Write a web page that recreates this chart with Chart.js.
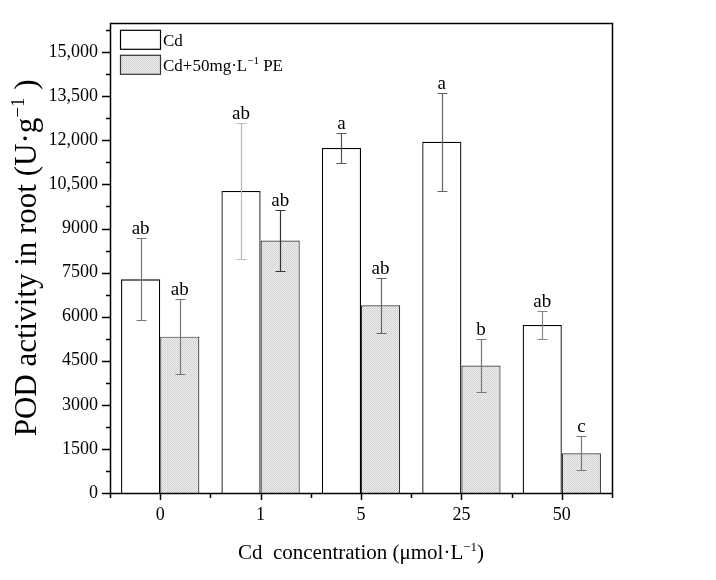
<!DOCTYPE html>
<html>
<head>
<meta charset="utf-8">
<script src="https://cdn.jsdelivr.net/npm/chart.js@4.4.0/dist/chart.umd.min.js"></script>
<style>
  html, body { margin: 0; padding: 0; background: #fff; }
</style>
</head>
<body>
<canvas id="chart" width="716" height="580"></canvas>
<script>
// data
var concentrations = ['0', '1', '5', '25', '50'];
var cdValues = [7270, 10280, 11740, 11950, 5720];
var cdErrors = [1400, 2320, 510, 1660, 490];
var cdLetters = ['ab', 'ab', 'a', 'a', 'ab'];
var peValues = [5320, 8590, 6390, 4340, 1350];
var peErrors = [1270, 1030, 935, 905, 580];
var peLetters = ['ab', 'ab', 'ab', 'b', 'c'];
var yTickValues = [0, 1500, 3000, 4500, 6000, 7500, 9000, 10500, 12000, 13500, 15000];

// error bar colours (they vary in the original)
var cdErrColors = ['#777', '#bbb', '#555', '#666', '#888'];
var peErrColors = ['#777', '#333', '#666', '#777', '#777'];

var serif = '"Liberation Serif", "Times New Roman", serif';

function makeStipple() {
    var c = document.createElement('canvas');
    c.width = 2; c.height = 2;
    var g = c.getContext('2d');
    g.fillStyle = '#f0f0f0';
    g.fillRect(0, 0, 2, 2);
    g.fillStyle = '#cfcfcf';
    g.fillRect(0, 0, 1, 1);
    g.fillRect(1, 1, 1, 1);
    return g.createPattern(c, 'repeat');
}
var stipple = makeStipple();

// draw text made of plain and superscript pieces, centred on x
function richText(ctx, parts, x, y, size) {
    var widths = parts.map(function (p) {
        ctx.font = (p.sup ? Math.round(size * 0.62) : size) + 'px ' + serif;
        return ctx.measureText(p.t).width;
    });
    var total = widths.reduce(function (a, b) { return a + b; }, 0);
    var cx = x - total / 2;
    parts.forEach(function (p, i) {
        ctx.font = (p.sup ? Math.round(size * 0.62) : size) + 'px ' + serif;
        ctx.fillText(p.t, cx, p.sup ? y - size * 0.4 : y);
        cx += widths[i];
    });
}

var decorations = {
    id: 'decorations',
    afterDatasetsDraw: function (chart) {
        var ctx = chart.ctx, y = chart.scales.y;
        var extra = [
            [cdErrors, cdLetters, cdErrColors],
            [peErrors, peLetters, peErrColors]
        ];
        chart.data.datasets.forEach(function (ds, d) {
            chart.getDatasetMeta(d).data.forEach(function (bar, i) {
                var v = ds.data[i], e = extra[d][0][i];
                var x = Math.round(bar.x) + 0.5;
                var top = Math.round(y.getPixelForValue(v + e)) + 0.5;
                var bot = Math.round(y.getPixelForValue(v - e)) + 0.5;
                ctx.save();
                ctx.strokeStyle = extra[d][2][i];
                ctx.lineWidth = 1.2;
                ctx.beginPath();
                ctx.moveTo(x, top); ctx.lineTo(x, bot);
                ctx.moveTo(x - 5, top); ctx.lineTo(x + 5, top);
                ctx.moveTo(x - 5, bot); ctx.lineTo(x + 5, bot);
                ctx.stroke();
                ctx.fillStyle = '#000';
                ctx.font = '19px ' + serif;
                ctx.textAlign = 'center';
                ctx.textBaseline = 'alphabetic';
                ctx.fillText(extra[d][1][i], bar.x, top - 5);
                ctx.restore();
            });
        });
    },
    afterDraw: function (chart) {
        var ctx = chart.ctx, a = chart.chartArea;
        var xs = chart.scales.x, ys = chart.scales.y;
        ctx.save();
        ctx.strokeStyle = '#000';
        ctx.lineWidth = 1.5;
        // frame
        ctx.strokeRect(Math.round(a.left) + 0.5, Math.round(a.top) + 0.5,
            Math.round(a.right - a.left), Math.round(a.bottom - a.top));

        // y ticks, major every 1500 and minor between
        ctx.beginPath();
        for (var v = 0; v <= ys.max; v += 750) {
            var py = Math.round(ys.getPixelForValue(v)) + 0.5;
            var len = (v % 1500 === 0) ? 8 : 4;
            ctx.moveTo(a.left, py); ctx.lineTo(a.left - len, py);
        }
        // x ticks, major at categories and minor at boundaries
        var n = concentrations.length;
        var step = (a.right - a.left) / n;
        for (var i = 0; i < n; i++) {
            var cx = Math.round(xs.getPixelForValue(i)) + 0.5;
            ctx.moveTo(cx, a.bottom); ctx.lineTo(cx, a.bottom + 7);
            var bx = Math.round(xs.getPixelForValue(i) - step / 2) + 0.5;
            ctx.moveTo(bx, a.bottom); ctx.lineTo(bx, a.bottom + 5);
        }
        var last = Math.round(a.right) + 0.5;
        ctx.moveTo(last, a.bottom); ctx.lineTo(last, a.bottom + 5);
        ctx.stroke();

        // legend
        var lx = a.left + 10, ly = a.top + 7;
        ctx.lineWidth = 1.2;
        ctx.fillStyle = '#fff';
        ctx.fillRect(lx, ly, 40, 19);
        ctx.strokeRect(lx + 0.5, ly + 0.5, 40, 19);
        ctx.fillStyle = stipple;
        ctx.fillRect(lx, ly + 25, 40, 19);
        ctx.strokeStyle = '#333';
        ctx.strokeRect(lx + 0.5, ly + 25.5, 40, 19);
        ctx.fillStyle = '#000';
        ctx.textAlign = 'left';
        ctx.textBaseline = 'alphabetic';
        ctx.font = '17px ' + serif;
        ctx.fillText(chart.data.datasets[0].label, lx + 43, ly + 16);
        var px = lx + 43, pyb = ly + 41;
        ctx.fillText('Cd+50mg·L', px, pyb);
        px += ctx.measureText('Cd+50mg·L').width;
        ctx.font = '11px ' + serif;
        ctx.fillText('\u22121', px, pyb - 7);
        px += ctx.measureText('\u22121').width;
        ctx.font = '17px ' + serif;
        ctx.fillText(' PE', px, pyb);

        // axis titles
        ctx.textAlign = 'left';
        richText(ctx, [{ t: 'Cd  concentration (\u03bcmol\u00b7L' }, { t: '\u22121', sup: true }, { t: ')' }],
            (a.left + a.right) / 2, 559, 21);
        ctx.save();
        ctx.translate(36, (a.top + a.bottom) / 2);
        ctx.rotate(-Math.PI / 2);
        richText(ctx, [{ t: 'POD activity in root (U\u00b7g' }, { t: '\u22121', sup: true }, { t: ' )' }],
            0, 0, 31);
        ctx.restore();
        ctx.restore();
    }
};

var ctx = document.getElementById('chart').getContext('2d');
var podChart = new Chart(ctx, {
    type: 'bar',
    data: {
        labels: concentrations,
        datasets: [
            {
                label: 'Cd',
                data: cdValues,
                backgroundColor: '#fff',
                borderColor: '#000',
                borderWidth: 1.3,
                borderSkipped: 'bottom'
            },
            {
                label: 'Cd+50mg\u00b7L\u207b\u00b9 PE',
                data: peValues,
                backgroundColor: stipple,
                borderColor: '#333',
                borderWidth: 1.2,
                borderSkipped: 'bottom'
            }
        ]
    },
    options: {
        responsive: false,
        animation: false,
        devicePixelRatio: 1,
        categoryPercentage: 0.78,
        barPercentage: 1,
        layout: { padding: { top: 17, right: 104, left: 0, bottom: 0 } },
        plugins: {
            legend: { display: false },
            tooltip: { enabled: false }
        },
        scales: {
            x: {
                offset: true,
                grid: { display: false, drawTicks: false },
                border: { display: false },
                ticks: {
                    color: '#000',
                    padding: 11,
                    font: { family: serif, size: 18 }
                },
                afterFit: function (scale) { scale.height = 87; }
            },
            y: {
                min: 0,
                max: 16000,
                grid: { display: false, drawTicks: false },
                border: { display: false },
                afterBuildTicks: function (scale) {
                    scale.ticks = yTickValues.map(function (v) { return { value: v }; });
                },
                ticks: {
                    color: '#000',
                    padding: 12,
                    autoSkip: false,
                    font: { family: serif, size: 18 },
                    callback: function (v) {
                        return v >= 10000 ? v.toLocaleString('en-US') : String(v);
                    }
                },
                afterFit: function (scale) { scale.width = 110; }
            }
        }
    },
    plugins: [decorations]
});
</script>
</body>
</html>
